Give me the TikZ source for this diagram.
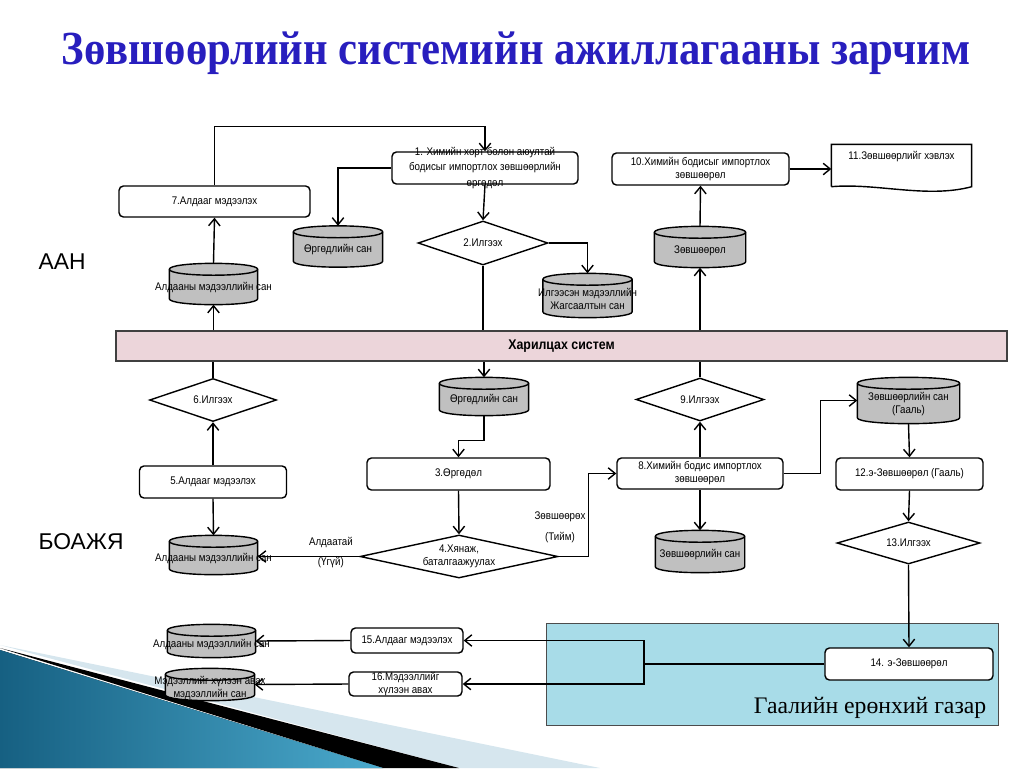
\documentclass[tikz,border=0pt]{standalone}
\usepackage{fontspec}
\setmainfont{Liberation Sans}
\newfontfamily\nfont{Liberation Sans}[FakeStretch=0.88]
\newfontfamily\tfont{Liberation Serif}[FakeStretch=0.9]
\newfontfamily\rfont{Liberation Serif}
\usepackage{tikz}
\usetikzlibrary{shapes.geometric,arrows.meta}
\definecolor{ttlblue}{RGB}{40,30,190}
\definecolor{syspink}{RGB}{236,213,218}
\definecolor{custblue}{RGB}{168,220,232}
\definecolor{dbgray}{RGB}{192,192,192}
\definecolor{swdark}{RGB}{22,96,130}
\definecolor{swlight}{RGB}{75,170,205}
\definecolor{swpale}{RGB}{214,230,238}

\begin{document}
\begin{tikzpicture}[x=0.02cm,y=-0.02cm,thick,
      >={Straight Barb[length=4pt,width=6.5pt]},
      small/.style={font=\nfont\fontsize{6.3}{7.4}\selectfont},
      box/.style ={draw,rounded corners=2.5pt,fill=white,align=center,inner sep=1pt,small},
      dec/.style ={draw,diamond,fill=white,align=center,inner sep=0pt,small},
      dbbox/.style={inner sep=0pt},
      dbtxt/.style={small,align=center,yshift=-2pt,inner sep=0pt},
      lbl/.style ={small,align=center}]
      \useasboundingbox (0,0) rectangle (1024,768);
      % Slide decoration
      \fill[swpale] (0,645) -- (600,768) -- (459,768) -- cycle;
      \fill[black] (0,648) -- (459,768) -- (383,768) -- cycle;
      \fill[left color=swdark,right color=swlight] (0,650) -- (383,768) -- (0,768) -- cycle;
      % Title
      \node[font=\tfont\bfseries\fontsize{27}{30}\selectfont,text=ttlblue,anchor=base] (title) at (516,64) {Зөвшөөрлийн системийн ажиллагааны зарчим};
      % Customs zone
      \node[draw=black!70,thin,fill=custblue,minimum width=9.04cm,minimum height=2.04cm,inner sep=0pt] (gz) at (772,674) {};
      \node[font=\rfont\fontsize{13.5}{15}\selectfont,anchor=base east,inner sep=0pt] (gzname) at (987,713) {Гаалийн ерөнхий газар};
      % Shared system
      \node[draw=black!75,fill=syspink,minimum width=17.82cm,minimum height=0.6cm,font=\nfont\bfseries\fontsize{8}{9}\selectfont] (sys) at (561.5,346) {Харилцах систем};
      % Side labels
      \node[font=\fontsize{13}{15}\selectfont,anchor=west,inner sep=0pt] (aan) at (38,262) {ААН};
      \node[font=\fontsize{13}{15}\selectfont,anchor=west,inner sep=0pt] (boajya) at (38,542) {БОАЖЯ};
      % Helper macro: database drum
      \newcommand{\dbnode}[4]{%
        \node[dbbox,#3] (#1) at (#2) {};
        \draw[fill=dbgray] ([yshift=-3.4pt]#1.north west) -- ([yshift=3.4pt]#1.south west)
          .. controls +(0,-4.5pt) and +(0,-4.5pt) .. ([yshift=3.4pt]#1.south east)
          -- ([yshift=-3.4pt]#1.north east)
          .. controls +(0,4.5pt) and +(0,4.5pt) .. ([yshift=-3.4pt]#1.north west) -- cycle;
        \draw ([yshift=-3.4pt]#1.north west) .. controls +(0,-4.5pt) and +(0,-4.5pt) .. ([yshift=-3.4pt]#1.north east);
        \node[dbtxt] (#1t) at (#1) {#4};
      }
      % Upper row
      \node[box,minimum width=3.82cm,minimum height=0.62cm] (b7) at (214.5,201.5) {7.Алдааг мэдээлэх};
      \node[box,minimum width=3.72cm,minimum height=0.64cm,inner ysep=-6pt,font=\nfont\fontsize{6.3}{8.8}\selectfont] (b1) at (485,168) {1. Химийн хорт болон аюултай\\бодисыг импортлох зөвшөөрлийн\\өргөдөл};
      \node[box,minimum width=3.54cm,minimum height=0.64cm] (b10) at (700.5,169) {10.Химийн бодисыг импортлох\\зөвшөөрөл};
      \node[small,minimum width=2.78cm,minimum height=0.82cm,text height=5pt,text depth=12pt,inner sep=3pt] (d11) at (901.5,165.5) {11.Зөвшөөрлийг хэвлэх};
      \node[dec,minimum width=2.6cm,minimum height=0.88cm,aspect=2.95] (d2) at (483,243) {2.Илгээх};
      \dbnode{cerr1}{213.5,284}{minimum width=1.74cm,minimum height=0.8cm}{Алдааны мэдээллийн сан}
      \dbnode{capp1}{338,246.5}{minimum width=1.76cm,minimum height=0.8cm}{Өргөдлийн сан}
      \dbnode{csent}{587.5,295.5}{minimum width=1.76cm,minimum height=0.86cm}{Илгээсэн мэдээллийн\\Жагсаалтын сан}
      \dbnode{cperm}{700,247}{minimum width=1.8cm,minimum height=0.8cm}{Зөвшөөрөл}
      % Lower row
      \node[dec,minimum width=2.54cm,minimum height=0.86cm,aspect=2.95] (d6) at (213,400) {6.Илгээх};
      \node[dec,minimum width=2.56cm,minimum height=0.86cm,aspect=2.95] (d9) at (700,399.5) {9.Илгээх};
      \node[box,minimum width=2.94cm,minimum height=0.64cm] (b5) at (213,482) {5.Алдааг мэдээлэх};
      \node[box,minimum width=3.66cm,minimum height=0.64cm] (b3) at (458.5,474) {3.Өргөдөл};
      \node[box,minimum width=3.32cm,minimum height=0.62cm] (b8) at (700,473.5) {8.Химийн бодис импортлох\\зөвшөөрөл};
      \node[box,minimum width=2.94cm,minimum height=0.64cm] (b12) at (909.5,474) {12.э-Зөвшөөрөл (Гааль)};
      \node[dec,minimum width=3.96cm,minimum height=0.86cm,aspect=4.6] (d4) at (459,556.5) {4.Хянаж,\\баталгаажуулах};
      \node[dec,minimum width=2.86cm,minimum height=0.84cm,aspect=3.4] (d13) at (908.5,543) {13.Илгээх};
      \dbnode{capp2}{484,396.5}{minimum width=1.76cm,minimum height=0.74cm}{Өргөдлийн сан}
      \dbnode{cerr2}{213.5,555}{minimum width=1.74cm,minimum height=0.76cm}{Алдааны мэдээллийн сан}
      \dbnode{cperm2}{700,551.5}{minimum width=1.76cm,minimum height=0.82cm}{Зөвшөөрлийн сан}
      \dbnode{ccust}{908.5,400.5}{minimum width=2.02cm,minimum height=0.9cm}{Зөвшөөрлийн сан\\(Гааль)}
      % Customs row
      \node[box,minimum width=3.36cm,minimum height=0.64cm] (b14) at (909,664) {14. э-Зөвшөөрөл};
      \node[box,minimum width=2.24cm,minimum height=0.5cm] (b15) at (407,640.5) {15.Алдааг мэдээлэх};
      \node[box,minimum width=2.26cm,minimum height=0.48cm,inner ysep=-2pt] (b16) at (405.5,684) {16.Мэдээллийг\\хүлээн авах};
      \dbnode{cerr3}{211.5,641}{minimum width=1.74cm,minimum height=0.64cm}{Алдааны мэдээллийн сан}
      \dbnode{cinfo}{210,684.5}{minimum width=1.76cm,minimum height=0.62cm}{Мэдээллийг хүлээн авах\\мэдээллийн сан}
      % Printed document
      \draw (d11.south west) -- (d11.north west) -- (d11.north east) -- (d11.south east)
        .. controls +(-45,12) and +(45,-4) .. (d11.south west);
      % Connectors, AAN
      \draw[->] (b7.north) -- ++(0,-59) -| (b1.north);
      \draw[->] (b1.west) -| (capp1.north);
      \draw[->] (b1.south) -- (d2.north);
      \draw[->] (d2.east) -| (csent.north);
      \draw (d2.south) -- (d2.south |- sys.north);
      \draw[->] (cerr1.south |- sys.north) -- (cerr1.south);
      \draw[->] (cerr1.north) -- (b7.south);
      \draw[->] (cperm.south |- sys.north) -- (cperm.south);
      \draw[->] (cperm.north) -- (b10.south);
      \draw[->] (b10.east) -- (b10.east -| d11.west);
      % Connectors, BOAZhYa
      \draw (d6.north) -- (d6.north |- sys.south);
      \draw[->] (b5.north) -- (d6.south);
      \draw[->] (b5.south) -- (cerr2.north);
      \draw[->] (capp2.north |- sys.south) -- (capp2.north);
      \draw[->] (capp2.south) -- ++(0,25) -| (b3.north);
      \draw[->] (b3.south) -- (d4.north);
      \draw[->] (d4.west) -- (d4.west -| cerr2.east)
        node[lbl,pos=.28,yshift=8pt] (err) {Алдаатай}
        node[lbl,pos=.28,yshift=-3.5pt] (no) {(Үгүй)};
      \draw[->] (d4.east) -- ++(30,0) |- (b8.west);
      \node[lbl] (ok) at (560,517) {Зөвшөөрөх};
      \node[lbl] (yes) at (560,538) {(Тийм)};
      \draw (d9.north) -- (d9.north |- sys.south);
      \draw[->] (b8.north) -- (d9.south);
      \draw[->] (b8.south) -- (cperm2.north);
      \draw[->] (b8.east) -- ++(37,0) |- (ccust.west);
      \draw[->] (ccust.south) -- (b12.north);
      \draw[->] (b12.south) -- (d13.north);
      \draw[->] (d13.south) -- (b14.north);
      % Connectors, customs
      \coordinate (j) at (644,664);
      \draw (b14.west) -- (j);
      \draw[->] (j) |- (b15.east);
      \draw[->] (j) |- (b16.east);
      \draw[->] (b15.west) -- (cerr3.east);
      \draw[->] (b16.west) -- (cinfo.east);
  \end{tikzpicture}
\end{document}
